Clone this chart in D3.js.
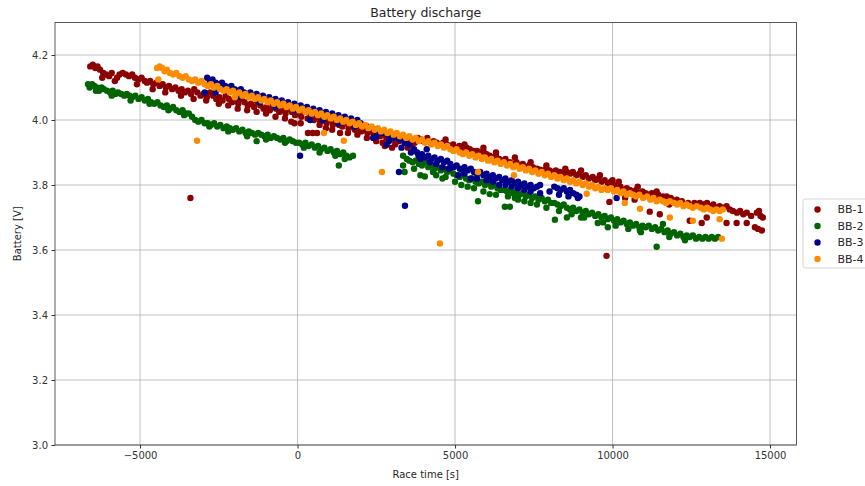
<!DOCTYPE html>
<html>
<head>
<meta charset="utf-8">
<script src="https://cdn.jsdelivr.net/npm/d3@7"></script>
<style>
  body { margin: 0; background: #fff; }
  svg text { font-family: "DejaVu Sans", sans-serif; }
  .tick text { font-size: 10px; fill: #333; }
  .tick line { stroke: #333; }
</style>
</head>
<body>
<div class="chart"></div>
<script>
// series names and colours
var seriesNames = ["BB-1", "BB-2", "BB-3", "BB-4"];
var seriesColors = ["#8b0000", "#006400", "#00008b", "#ff8c00"];

var xTicks = [-5000, 0, 5000, 10000, 15000];
var yTicks = [3.0, 3.2, 3.4, 3.6, 3.8, 4.0, 4.2];

// [race time s, battery V]
var bb1 = [
  [-6580,4.165],[-6500,4.17],[-6420,4.16],[-6350,4.165],[-6270,4.155],[-6170,4.145],[-6080,4.14],[-5980,4.135],
  [-5900,4.145],[-5730,4.13],[-5650,4.14],[-5550,4.145],[-5450,4.14],[-5350,4.135],[-5250,4.14],[-5160,4.13],
  [-5050,4.125],[-4950,4.13],[-4850,4.12],[-4780,4.115],[-4680,4.12],[-4580,4.11],[-4480,4.115],[-4380,4.105],
  [-4280,4.11],[-4180,4.10],[-4080,4.105],[-3980,4.095],[-3880,4.10],[-3780,4.09],[-3680,4.095],[-3580,4.085],
  [-3480,4.09],[-3380,4.08],[-3280,4.095],[-3180,4.085],[-3080,4.075],[-2980,4.08],[-2880,4.07],[-2780,4.085],
  [-2680,4.075],[-2580,4.065],[-2480,4.07],[-2380,4.06],[-2280,4.075],[-2180,4.065],[-2080,4.055],[-1980,4.06],
  [-1880,4.05],[-1780,4.065],[-1680,4.055],[-1580,4.045],[-1480,4.05],[-1380,4.04],[-1280,4.055],[-1180,4.045],
  [-1080,4.035],[-980,4.04],[-880,4.03],[-780,4.045],[-680,4.035],[-580,4.025],[-480,4.03],[-380,4.02],
  [-280,4.035],[-180,4.025],[-80,4.015],[20,4.02],[120,4.01],[220,4.025],[320,4.005],[420,4.015],[520,4.00],
  [620,4.01],[720,3.995],[820,4.005],[920,3.99],[1020,4.0],[1120,3.985],[330,3.96],[480,3.96],[620,3.96],
  [1350,3.96],[1220,3.995],[1320,3.985],[1420,3.98],[1520,3.99],[1620,3.975],[1720,3.98],[1820,3.97],
  [1920,3.975],[2020,3.965],[2120,3.97],[2220,3.96],[2320,3.965],[2420,3.955],[2520,3.96],[2620,3.95],
  [2720,3.955],[2770,3.92],[2820,3.945],[2920,3.95],[3020,3.94],[3120,3.945],[3220,3.935],[3320,3.94],
  [3420,3.93],[3520,3.935],[3620,3.925],[3720,3.93],[3820,3.945],[3920,3.94],[4020,3.935],[4120,3.945],
  [4220,3.93],[4320,3.935],[4420,3.93],[4520,3.925],[4620,3.93],[4740,3.925],[4840,3.92],[4940,3.925],
  [5040,3.915],[5140,3.92],[5240,3.91],[5370,3.915],[5470,3.91],[5580,3.905],[5700,3.905],[5800,3.90],
  [5900,3.905],[6000,3.895],[6100,3.89],[6200,3.885],[6300,3.89],[6400,3.88],[6500,3.875],[6600,3.88],
  [6740,3.87],[6850,3.865],[6950,3.87],[7050,3.86],[7150,3.865],[7250,3.855],[7350,3.86],[7470,3.855],
  [7600,3.85],[7700,3.847],[7800,3.845],[7900,3.85],[8000,3.845],[8100,3.84],[8200,3.845],[8330,3.84],
  [8450,3.835],[8550,3.84],[8650,3.835],[8740,3.84],[8850,3.83],[8950,3.835],[9050,3.825],[9150,3.83],
  [9250,3.82],[9370,3.825],[9900,3.748],[10000,3.815],[9450,3.815],[9550,3.82],[9650,3.81],[9750,3.815],
  [9850,3.805],[9950,3.81],[10050,3.80],[10150,3.79],[10250,3.795],[10350,3.785],[10450,3.79],[10550,3.785],
  [10650,3.78],[10750,3.785],[10850,3.775],[10950,3.78],[11050,3.775],[11150,3.77],[11250,3.775],[11350,3.765],
  [11450,3.77],[11600,3.765],[11720,3.765],[11850,3.76],[12040,3.755],[12200,3.75],[12400,3.745],[12600,3.745],
  [12770,3.745],[12900,3.74],[13000,3.745],[13100,3.735],[13200,3.74],[13300,3.73],[13400,3.735],[13500,3.73],
  [13620,3.735],[13720,3.725],[13820,3.72],[13950,3.715],[14050,3.72],[14150,3.71],[14260,3.715],[14400,3.705],
  [14580,3.715],[14650,3.72],[14700,3.705],[14770,3.70],[11180,3.718],[11500,3.71],[12450,3.69],[12830,3.683],
  [12990,3.70],[13620,3.683],[13940,3.683],[14260,3.683],[14520,3.67],[14620,3.665],[14740,3.66],[11800,3.74],
  [10400,3.76],[10700,3.755],[-3400,3.76],[9810,3.582],
  [-6200,4.13],[-5800,4.12],[-5100,4.11],[-4600,4.095],[-4200,4.085],[-3700,4.075],[-3300,4.065],[-2900,4.06],
  [-2500,4.05],[-2200,4.045],[-1900,4.035],[-1600,4.03],[-1300,4.025],[-1000,4.02],[-700,4.01],[-400,4.005],
  [-200,3.995],[100,3.99],[-100,3.99],[700,3.985],[900,3.975],[1100,3.97],[1600,3.96],[1900,3.955],
  [2200,3.945],[2500,3.935],[3100,3.925],[3500,3.915],[3700,3.905],[3000,3.915],[2700,3.93],
  [4700,3.94],[5300,3.925],[5900,3.915],[6300,3.90],[6900,3.885],[7400,3.87],[7900,3.86],[8500,3.85],
  [9000,3.845],[9600,3.83],[10200,3.81],[10800,3.795],[11400,3.78]
];

var bb2 = [
  [-6650,4.11],[-6600,4.10],[-6520,4.11],[-6450,4.105],[-6380,4.10],[-6300,4.09],[-6220,4.10],[-6150,4.095],
  [-6050,4.09],[-5950,4.085],[-5870,4.09],[-5780,4.08],[-5700,4.085],[-5600,4.08],[-5500,4.075],[-5420,4.08],
  [-5330,4.075],[-5250,4.07],[-5150,4.075],[-5050,4.065],[-4950,4.07],[-4850,4.06],[-4750,4.065],[-4650,4.055],
  [-4550,4.05],[-4450,4.055],[-4350,4.045],[-4250,4.04],[-4150,4.045],[-4050,4.035],[-3950,4.04],[-3850,4.03],
  [-3750,4.025],[-3650,4.03],[-3550,4.02],[-3450,4.02],[-3350,4.01],[-3250,4.00],[-3150,3.995],[-3050,4.00],
  [-2950,3.99],[-2850,3.99],[-2750,3.985],[-2650,3.99],[-2550,3.98],[-2450,3.985],[-2350,3.975],[-2250,3.98],
  [-2150,3.975],[-2050,3.97],[-1950,3.975],[-1850,3.965],[-1750,3.97],[-1650,3.96],[-1550,3.965],[-1450,3.96],
  [-1350,3.955],[-1250,3.96],[-1150,3.955],[-1050,3.95],[-950,3.955],[-850,3.945],[-750,3.95],[-650,3.945],
  [-550,3.94],[-450,3.945],[-350,3.935],[-250,3.94],[-150,3.935],[-50,3.93],[-1300,3.935],
  [50,3.93],[150,3.925],[250,3.93],[350,3.92],[450,3.925],[550,3.915],[650,3.92],[750,3.91],[850,3.915],
  [950,3.905],[1050,3.91],[1150,3.90],[1250,3.905],[1350,3.895],[1450,3.90],[1550,3.89],[1650,3.885],
  [1760,3.89],[1310,3.86],
  [3350,3.89],[3350,3.86],[3470,3.88],[3550,3.875],[3650,3.87],[3750,3.875],[3850,3.865],[3950,3.86],
  [4050,3.87],[4040,3.826],[4150,3.855],[4250,3.86],[4350,3.85],[4450,3.855],[4550,3.845],[4650,3.85],
  [4750,3.84],[4850,3.845],[4950,3.835],[4400,3.83],[4700,3.825],[4300,3.84],
  [5050,3.83],[5150,3.825],[5250,3.83],[5350,3.82],[5450,3.815],[5550,3.82],[5650,3.81],[5750,3.805],
  [5850,3.81],[5950,3.80],[6050,3.805],[6150,3.795],[6250,3.80],[6350,3.79],[6450,3.785],[5730,3.75],
  [6100,3.772],[5400,3.795],
  [6550,3.785],[6650,3.78],[6750,3.785],[6850,3.775],[6950,3.78],[7050,3.77],[7150,3.775],[7250,3.765],
  [7350,3.77],[7450,3.76],[7550,3.765],[7650,3.755],[7750,3.76],[7850,3.75],[7950,3.755],[8050,3.745],
  [6580,3.733],[6740,3.733],[6680,3.765],[7000,3.755],[7400,3.745],
  [8150,3.745],[8250,3.74],[8350,3.735],[8450,3.74],[8550,3.73],[8650,3.725],[8750,3.73],[8850,3.72],
  [8950,3.725],[9050,3.715],[9150,3.72],[9250,3.71],[9350,3.715],[9450,3.705],[9550,3.71],[8170,3.693],
  [8550,3.70],[9000,3.70],
  [9650,3.70],[9750,3.705],[9850,3.695],[9950,3.70],[10050,3.69],[10150,3.695],[10250,3.685],[10350,3.69],
  [10450,3.68],[10550,3.685],[10650,3.675],[10750,3.68],[10850,3.67],[10950,3.675],[9530,3.683],[9850,3.67],
  [10870,3.66],
  [11050,3.67],[11150,3.675],[11250,3.665],[11350,3.67],[11450,3.66],[11550,3.665],[11650,3.655],[11750,3.66],
  [11850,3.65],[11950,3.655],[12050,3.645],[12150,3.65],[12250,3.64],[12350,3.645],[12450,3.64],[12550,3.645],
  [12650,3.635],[12750,3.64],[12850,3.635],[12950,3.64],[13050,3.635],[13150,3.64],[13250,3.635],[13350,3.64],
  [11400,3.61],[11600,3.68],[11800,3.64],[12300,3.63],
  [3400,3.84],[3700,3.85],[3900,3.83],[4600,3.82],[5000,3.81],[5200,3.80],[5600,3.79],[5900,3.78],
  [6300,3.77],[6900,3.76],[7200,3.75],[7600,3.74],[7900,3.73],[8300,3.72],[8700,3.71],[9100,3.70],
  [9700,3.685],[10100,3.675],[10500,3.665],[10900,3.655],
  [-6400,4.09],[-5900,4.075],[-5300,4.06],[-4700,4.05],[-4100,4.03],[-3600,4.015],[-2800,3.98],[-2200,3.965],
  [-1600,3.95],[-1000,3.94],[-400,3.93],[200,3.915],[700,3.90],[1200,3.89],[1500,3.88]
];

var bb3 = [
  [-2870,4.13],[-2780,4.12],[-2700,4.125],[-2600,4.115],[-2500,4.11],[-2400,4.115],[-2300,4.105],[-2200,4.10],
  [-2100,4.105],[-2000,4.095],[-1900,4.09],[-1800,4.095],[-1700,4.085],[-1600,4.08],[-1500,4.085],[-1400,4.075],
  [-1300,4.08],[-1200,4.07],[-1100,4.075],[-1000,4.065],[-900,4.07],[-800,4.06],[-700,4.065],[-600,4.055],
  [-500,4.06],[-400,4.05],[-300,4.055],[-200,4.045],[-100,4.05],[0,4.04],[100,4.045],[200,4.035],[300,4.04],
  [400,4.03],[500,4.035],[600,4.025],[700,4.03],[800,4.02],[900,4.025],[1000,4.015],[1100,4.02],[1200,4.01],
  [1300,4.015],[1400,4.005],[1500,4.01],[1600,4.0],[1700,4.005],[1800,3.995],[1900,4.0],[2000,3.99],
  [-2950,4.085],[-2600,4.085],[-1900,4.07],[-1200,4.055],[-700,4.04],[-100,4.03],[400,4.0],[800,4.0],
  [1300,3.99],[1800,3.98],[80,3.89],
  [2100,3.985],[2200,3.98],[2300,3.975],[2400,3.945],[2460,3.97],[2600,3.965],[2700,3.96],[2830,3.924],
  [2870,3.955],[3000,3.95],[3100,3.945],[3220,3.84],[3250,3.94],[3410,3.736],[3400,3.93],[3550,3.925],
  [3700,3.91],[3800,3.90],[3840,3.89],[3950,3.895],[4000,3.935],[4050,3.885],[4150,3.89],[4250,3.88],
  [4350,3.885],[4450,3.875],[4550,3.88],[4650,3.87],[4750,3.875],[4850,3.865],[4950,3.855],[5050,3.86],
  [5150,3.85],[5220,3.847],[5300,3.855],[5400,3.845],[5500,3.85],[5600,3.84],[5700,3.835],[5800,3.84],
  [5900,3.83],[6000,3.835],[6100,3.825],[6200,3.83],[6300,3.82],[6400,3.825],[6500,3.815],[6600,3.82],
  [6700,3.81],[6800,3.815],[6900,3.805],[7000,3.81],[7100,3.80],[7200,3.805],[7300,3.795],[7400,3.80],
  [7500,3.79],[7600,3.795],[7700,3.80],
  [5100,3.83],[5500,3.82],[6000,3.815],[6400,3.80],[6800,3.795],[7200,3.785],[4600,3.855],[4200,3.87],
  [8150,3.795],[8250,3.79],[8350,3.785],[8450,3.79],[8550,3.78],[8650,3.785],[8750,3.775],[8850,3.77],
  [8950,3.765],[8300,3.77],[8600,3.765],[8900,3.76],[10130,3.76],
  [2500,3.95],[2900,3.935],[3300,3.915],[3600,3.90],[3900,3.88],[4100,3.91],[4400,3.865],[4800,3.85],
  [5300,3.835],[5700,3.82],[6200,3.81],[6600,3.80],[7000,3.79],[7400,3.78],[7700,3.775],[8000,3.78]
];

var bb4 = [
  [-4460,4.16],[-4380,4.165],[-4300,4.16],[-4220,4.15],[-4150,4.155],[-4050,4.145],[-3950,4.14],[-3850,4.145],
  [-3750,4.135],[-3650,4.13],[-3550,4.135],[-3450,4.125],[-3350,4.12],[-3250,4.125],[-3150,4.115],[-3050,4.12],
  [-2950,4.11],[-2850,4.105],[-2750,4.11],[-2650,4.10],[-2550,4.105],[-2460,4.095],[-2350,4.09],[-2250,4.095],
  [-2150,4.085],[-2050,4.09],[-1950,4.08],[-1850,4.085],[-1750,4.075],[-1650,4.08],[-1550,4.07],[-1450,4.075],
  [-1350,4.065],[-1250,4.07],[-1150,4.06],[-1050,4.065],[-950,4.055],[-850,4.06],[-750,4.05],[-650,4.055],
  [-550,4.045],[-450,4.05],[-350,4.04],[-250,4.045],[-150,4.035],[-50,4.04],[50,4.03],[150,4.035],[250,4.025],
  [350,4.03],[450,4.02],[550,4.025],[650,4.015],[750,4.02],[850,4.01],[950,4.015],[1050,4.005],[1150,4.01],
  [1250,4.0],[1350,4.005],[1450,3.995],[1550,4.0],[1650,3.99],[1750,3.995],[1850,3.985],[1950,3.99],
  [2050,3.98],[2150,3.985],[2250,3.975],[2350,3.98],[2450,3.97],[2550,3.975],[2650,3.965],[2750,3.97],
  [2850,3.96],[2950,3.965],[3050,3.955],[3150,3.96],[3250,3.95],[3350,3.955],[3450,3.945],[3550,3.95],
  [3650,3.94],[3750,3.945],[3850,3.935],[3950,3.94],[4050,3.93],[4150,3.935],[4250,3.925],[4350,3.93],
  [4450,3.92],[4550,3.925],[4650,3.915],[4750,3.92],[4850,3.91],[4950,3.905],[5050,3.91],[5150,3.90],
  [5250,3.895],[5350,3.90],[5450,3.89],[5550,3.895],[5650,3.885],[5750,3.89],[5850,3.88],[5950,3.885],
  [6050,3.875],[6150,3.88],[6250,3.87],[6350,3.875],[6450,3.865],[6550,3.87],[6650,3.86],[6750,3.865],
  [6850,3.855],[6950,3.86],[7050,3.85],[7150,3.855],[7250,3.845],[7350,3.85],[7450,3.84],[7550,3.845],
  [7650,3.835],[7750,3.84],[7850,3.83],[7950,3.835],[8050,3.825],[8150,3.83],[8250,3.82],[8350,3.825],
  [8450,3.815],[8550,3.82],[8650,3.81],[8750,3.815],[8850,3.805],[8950,3.81],[9050,3.80],[9150,3.805],
  [9250,3.795],[9350,3.80],[9450,3.79],[9550,3.795],[9650,3.785],[9750,3.79],[9850,3.785],[9950,3.79],
  [10050,3.78],[10150,3.785],[10250,3.775],[10350,3.78],[10450,3.77],[10550,3.775],[10650,3.77],[10750,3.765],
  [10850,3.77],[10970,3.76],[11100,3.765],[11200,3.755],[11300,3.76],[11400,3.75],[11500,3.755],[11600,3.75],
  [11700,3.745],[11820,3.75],[11950,3.745],[12050,3.74],[12150,3.745],[12250,3.735],[12350,3.74],[12450,3.735],
  [12550,3.73],[12670,3.735],[12800,3.73],[12900,3.725],[13000,3.73],[13100,3.725],[13200,3.72],[13300,3.725],
  [13400,3.72],[13500,3.725],
  [-4420,4.125],[-1990,4.07],[-3190,3.936],[840,3.96],[1470,3.936],[2680,3.84],[4520,3.62],[5730,3.84],
  [6870,3.83],[9180,3.773],[10390,3.745],[10870,3.727],[11820,3.70],[12550,3.69],[13400,3.695],[13470,3.635]
];

var allSeries = [bb1, bb2, bb3, bb4];

var svgWidth = 865;
var svgHeight = 486;
var margin = { top: 22.5, right: 68.5, bottom: 41, left: 55 };
var width = svgWidth - margin.left - margin.right;
var height = svgHeight - margin.top - margin.bottom;

var svg = d3.select(".chart")
  .append("svg")
  .attr("width", svgWidth)
  .attr("height", svgHeight);

var chartGroup = svg.append("g")
  .attr("transform", `translate(${margin.left}, ${margin.top})`);

var xScale = d3.scaleLinear()
  .domain([-7700, 15840])
  .range([0, width]);

var yScale = d3.scaleLinear()
  .domain([3.0, 4.3])
  .range([height, 0]);

// grid
chartGroup.append("g")
  .selectAll("line.gx")
  .data(xTicks)
  .enter()
  .append("line")
  .attr("x1", d => xScale(d))
  .attr("x2", d => xScale(d))
  .attr("y1", 0)
  .attr("y2", height)
  .attr("stroke", "#b0b0b0")
  .attr("stroke-width", 0.8);

chartGroup.append("g")
  .selectAll("line.gy")
  .data(yTicks)
  .enter()
  .append("line")
  .attr("x1", 0)
  .attr("x2", width)
  .attr("y1", d => yScale(d))
  .attr("y2", d => yScale(d))
  .attr("stroke", "#b0b0b0")
  .attr("stroke-width", 0.8);

// points, BB-1 drawn first
var plotArea = chartGroup.append("g");
allSeries.forEach(function(data, i) {
  plotArea.append("g")
    .selectAll("circle")
    .data(data)
    .enter()
    .append("circle")
    .attr("cx", d => xScale(d[0]))
    .attr("cy", d => yScale(d[1]))
    .attr("r", 3.2)
    .attr("fill", seriesColors[i]);
});

// axes
var bottomAxis = d3.axisBottom(xScale)
  .tickValues(xTicks)
  .tickFormat(d3.format("d"))
  .tickSize(3.5)
  .tickPadding(3.5);

var leftAxis = d3.axisLeft(yScale)
  .tickValues(yTicks)
  .tickFormat(d3.format(".1f"))
  .tickSize(3.5)
  .tickPadding(3.5);

chartGroup.append("g")
  .attr("transform", `translate(0, ${height})`)
  .call(bottomAxis)
  .call(g => g.select(".domain").remove());

chartGroup.append("g")
  .call(leftAxis)
  .call(g => g.select(".domain").remove());

// spines
chartGroup.append("rect")
  .attr("width", width)
  .attr("height", height)
  .attr("fill", "none")
  .attr("stroke", "#333")
  .attr("stroke-width", 0.8);

// labels
svg.append("text")
  .attr("x", margin.left + width / 2)
  .attr("y", 17)
  .attr("text-anchor", "middle")
  .attr("font-size", "12.5px")
  .attr("fill", "#262626")
  .text("Battery discharge");

svg.append("text")
  .attr("x", margin.left + width / 2)
  .attr("y", 478)
  .attr("text-anchor", "middle")
  .attr("font-size", "10px")
  .attr("fill", "#262626")
  .text("Race time [s]");

svg.append("text")
  .attr("transform", "rotate(-90)")
  .attr("x", -(margin.top + height / 2))
  .attr("y", 21)
  .attr("text-anchor", "middle")
  .attr("font-size", "10px")
  .attr("fill", "#262626")
  .text("Battery [V]");

// legend
var legend = svg.append("g")
  .attr("transform", "translate(803, 199)");

legend.append("rect")
  .attr("width", 80)
  .attr("height", 69)
  .attr("rx", 2.5)
  .attr("fill", "#fff")
  .attr("fill-opacity", 0.8)
  .attr("stroke", "#cccccc")
  .attr("stroke-width", 0.8);

var legendItems = legend.selectAll("g.item")
  .data(seriesNames)
  .enter()
  .append("g")
  .attr("transform", (d, i) => `translate(0, ${10.5 + i * 16.5})`);

legendItems.append("circle")
  .attr("cx", 14.5)
  .attr("cy", 0)
  .attr("r", 3.2)
  .attr("fill", (d, i) => seriesColors[i]);

legendItems.append("text")
  .attr("x", 34.5)
  .attr("y", 0)
  .attr("dy", "0.35em")
  .attr("font-size", "11px")
  .attr("fill", "#262626")
  .text(d => d);
</script>
</body>
</html>
